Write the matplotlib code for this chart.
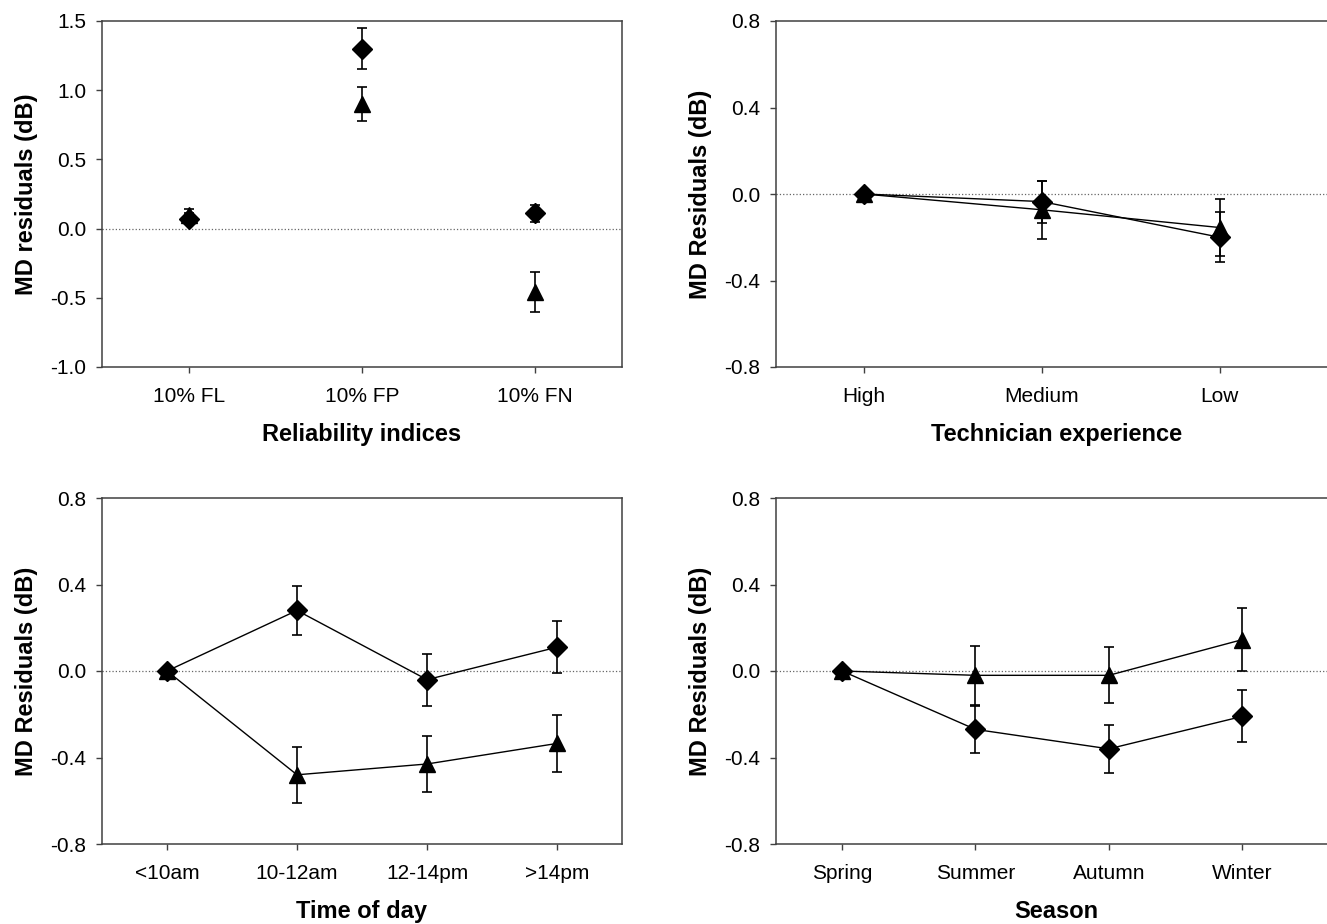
import matplotlib
matplotlib.use('Agg')
import matplotlib.pyplot as plt
import numpy as np

plt.rcParams['font.family'] = ['Liberation Sans', 'DejaVu Sans']

# panel 1: reliability indices (no connecting lines)
reliability_labels = ['10% FL', '10% FP', '10% FN']
rel_diamond = [0.07, 1.30, 0.11]
rel_diamond_err = [0.04, 0.15, 0.06]
rel_triangle = [0.10, 0.90, -0.46]
rel_triangle_err = [0.04, 0.12, 0.145]

# panel 2: technician experience
experience_labels = ['High', 'Medium', 'Low']
exp_diamond = [0.0, -0.035, -0.20]
exp_diamond_err = [0.0, 0.097, 0.115]
exp_triangle = [0.0, -0.073, -0.155]
exp_triangle_err = [0.0, 0.135, 0.13]

# panel 3: time of day
time_labels = ['<10am', '10-12am', '12-14pm', '>14pm']
time_diamond = [0.0, 0.28, -0.04, 0.11]
time_diamond_err = [0.0, 0.115, 0.12, 0.12]
time_triangle = [0.0, -0.48, -0.43, -0.335]
time_triangle_err = [0.0, 0.13, 0.13, 0.13]

# panel 4: season
season_labels = ['Spring', 'Summer', 'Autumn', 'Winter']
season_diamond = [0.0, -0.27, -0.36, -0.21]
season_diamond_err = [0.0, 0.11, 0.11, 0.12]
season_triangle = [0.0, -0.02, -0.02, 0.145]
season_triangle_err = [0.0, 0.135, 0.13, 0.147]

W, H = 1327, 924
fig = plt.figure(figsize=(W / 100, H / 100), dpi=100)


def make_axes(x0, y0, x1, y1):
    # pixel box -> figure fraction
    return fig.add_axes([x0 / W, 1 - y1 / H, (x1 - x0) / W, (y1 - y0) / H])


def plot_panel(ax, labels, d, d_err, t, t_err, xlabel, ylabel, ylim, yticks, xlim, lines=True):
    x = np.arange(len(labels))
    ls = '-' if lines else 'none'
    ax.axhline(0, color='#666666', linestyle=':', linewidth=0.9, zorder=1)
    ax.errorbar(x, t, yerr=t_err, fmt='^', linestyle=ls, color='black', markersize=12,
                linewidth=1.0, elinewidth=1.2, capsize=3.5, capthick=1.2, zorder=3)
    ax.errorbar(x, d, yerr=d_err, fmt='D', linestyle=ls, color='black', markersize=10,
                linewidth=1.0, elinewidth=1.2, capsize=3.5, capthick=1.2, zorder=4)
    ax.set_xlim(*xlim)
    ax.set_ylim(*ylim)
    ax.set_yticks(yticks)
    ax.set_yticklabels(['%.1f' % v for v in yticks])
    ax.set_xticks(x)
    ax.set_xticklabels(labels)
    ax.tick_params(direction='out', length=4.3, width=1.0, color='#404040',
                   labelsize=15, pad=7, top=False, right=False)
    ax.tick_params(axis='x', pad=10)
    for s in ax.spines.values():
        s.set_color('#404040')
        s.set_linewidth(1.1)
    ax.set_xlabel(xlabel, fontsize=17, fontweight='bold', labelpad=12)
    ax.set_ylabel(ylabel, fontsize=17, fontweight='bold', labelpad=9)


ax1 = make_axes(102, 21, 622, 367)
plot_panel(ax1, reliability_labels, rel_diamond, rel_diamond_err, rel_triangle, rel_triangle_err,
           'Reliability indices', 'MD residuals (dB)', (-1.0, 1.5),
           [-1.0, -0.5, 0.0, 0.5, 1.0, 1.5], (-0.5, 2.5), lines=False)

ax2 = make_axes(776, 21, 1337, 367)
plot_panel(ax2, experience_labels, exp_diamond, exp_diamond_err, exp_triangle, exp_triangle_err,
           'Technician experience', 'MD Residuals (dB)', (-0.8, 0.8),
           [-0.8, -0.4, 0.0, 0.4, 0.8], (-0.494, 2.66))

ax3 = make_axes(102, 498, 622, 844)
plot_panel(ax3, time_labels, time_diamond, time_diamond_err, time_triangle, time_triangle_err,
           'Time of day', 'MD Residuals (dB)', (-0.8, 0.8),
           [-0.8, -0.4, 0.0, 0.4, 0.8], (-0.5, 3.5))

ax4 = make_axes(776, 498, 1337, 844)
plot_panel(ax4, season_labels, season_diamond, season_diamond_err, season_triangle, season_triangle_err,
           'Season', 'MD Residuals (dB)', (-0.8, 0.8),
           [-0.8, -0.4, 0.0, 0.4, 0.8], (-0.495, 3.71))

fig.savefig('out.png', dpi=100)
